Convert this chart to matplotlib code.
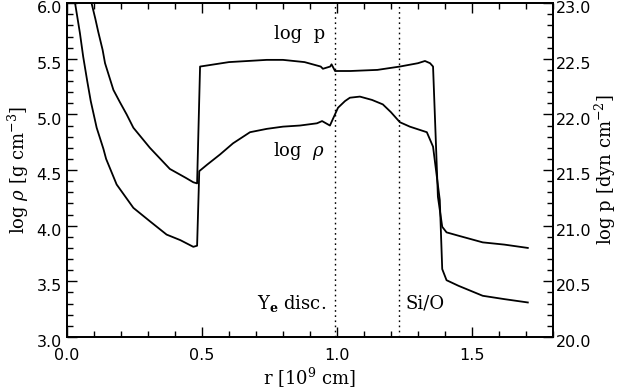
import numpy as np
import matplotlib
matplotlib.use("Agg")
import matplotlib.pyplot as plt
from matplotlib.ticker import MultipleLocator
from matplotlib.transforms import ScaledTranslation

plt.rcParams['font.family'] = ['DejaVu Serif']
plt.rcParams['mathtext.fontset'] = 'dejavuserif'

# log p profile (dyn cm^-2)
r_p = [0.091, 0.105, 0.116, 0.132, 0.141, 0.172, 0.196, 0.221, 0.246, 0.307, 0.381,
       0.440, 0.468, 0.482,
       0.493, 0.52, 0.60, 0.74, 0.80, 0.88, 0.94, 0.948, 0.975, 0.98, 0.993,
       1.05, 1.15, 1.233, 1.30, 1.326, 1.345, 1.356, 1.374, 1.39, 1.406,
       1.45, 1.54, 1.62, 1.707]
logp = [23.0, 22.86, 22.74, 22.58, 22.46, 22.22, 22.11, 22.00, 21.88, 21.70, 21.51,
        21.43, 21.39, 21.38,
        22.43, 22.44, 22.47, 22.49, 22.49, 22.47, 22.43, 22.41, 22.43, 22.45, 22.39,
        22.39, 22.40, 22.43, 22.46, 22.48, 22.46, 22.43, 21.26, 20.99, 20.94,
        20.91, 20.85, 20.83, 20.80]

# log rho profile (g cm^-3)
r_rho = [0.030, 0.048, 0.060, 0.075, 0.088, 0.11, 0.135, 0.145, 0.184, 0.246,
         0.307, 0.369, 0.42, 0.468, 0.482,
         0.49, 0.52, 0.567, 0.615, 0.678, 0.74, 0.80, 0.863, 0.926,
         0.945, 0.974, 1.004, 1.03, 1.048, 1.085, 1.13, 1.17, 1.20, 1.233, 1.27,
         1.333, 1.356, 1.381, 1.39, 1.406, 1.45, 1.54, 1.62, 1.707]
logrho = [6.0, 5.73, 5.52, 5.30, 5.12, 4.88, 4.69, 4.60, 4.37, 4.16,
          4.04, 3.92, 3.87, 3.81, 3.82,
          4.49, 4.55, 4.64, 4.74, 4.84, 4.87, 4.89, 4.90, 4.92,
          4.94, 4.90, 5.06, 5.12, 5.15, 5.16, 5.13, 5.09, 5.02, 4.93, 4.89,
          4.84, 4.71, 4.23, 3.61, 3.51, 3.46, 3.37, 3.34, 3.31]

# marked radii
r_ye = 0.993
r_sio = 1.23

fig = plt.figure(figsize=(6.23, 3.9), dpi=100)
ax = fig.add_axes([0.1075, 0.136, 0.78, 0.856])
ax2 = ax.twinx()

ax.plot(r_rho, logrho, color='black', lw=1.3)
ax2.plot(r_p, logp, color='black', lw=1.3)

ax.axvline(r_ye, color='black', ls=(0, (1.2, 2.5)), lw=1.0)
ax.axvline(r_sio, color='black', ls=(0, (1.2, 2.5)), lw=1.0)

ax.set_xlim(0, 1.8)
ax.set_ylim(3.0, 6.0)
ax2.set_ylim(20.0, 23.0)

fmt = plt.FuncFormatter(lambda v, p: f"{v:.1f}")
for a in (ax, ax2):
    a.xaxis.set_major_locator(MultipleLocator(0.5))
    a.xaxis.set_minor_locator(MultipleLocator(0.1))
    a.yaxis.set_major_locator(MultipleLocator(0.5))
    a.yaxis.set_minor_locator(MultipleLocator(0.1))
    a.tick_params(which='major', direction='in', length=7, width=1.0, labelsize=11.5)
    a.tick_params(which='minor', direction='in', length=4, width=1.0)
    a.xaxis.set_major_formatter(fmt)
    a.yaxis.set_major_formatter(fmt)
    for s in a.spines.values():
        s.set_linewidth(1.3)
ax.tick_params(which='both', top=True, right=False)
ax.tick_params(axis='x', pad=8)
ax2.tick_params(axis='y', pad=2)

# tick labels in a plain sans face, nudged down a little like the original
shift = ScaledTranslation(0, -3 / 72, fig.dpi_scale_trans)
for a in (ax, ax2):
    for lab in a.get_yticklabels() + a.get_xticklabels():
        lab.set_family('DejaVu Sans')
    for lab in a.get_yticklabels():
        lab.set_transform(lab.get_transform() + shift)

ax.set_xlabel(r"r [10$^9$ cm]", fontsize=13, labelpad=2)
ax.set_ylabel(r"log $\rho$ [g cm$^{-3}$]", fontsize=13, labelpad=4)
ax2.set_ylabel(r"log p [dyn cm$^{-2}$]", fontsize=13, labelpad=1)

ax.text(0.86, 5.72, "log  p", fontsize=13, ha='center', va='center')
ax.text(0.86, 4.67, r"log  $\rho$", fontsize=13, ha='center', va='center')
ax.text(0.96, 3.30, r"Y$_\mathbf{e}$ disc.", fontsize=13, ha='right', va='center')
ax.text(1.255, 3.30, "Si/O", fontsize=13, ha='left', va='center')

fig.savefig("out.png", dpi=100)
